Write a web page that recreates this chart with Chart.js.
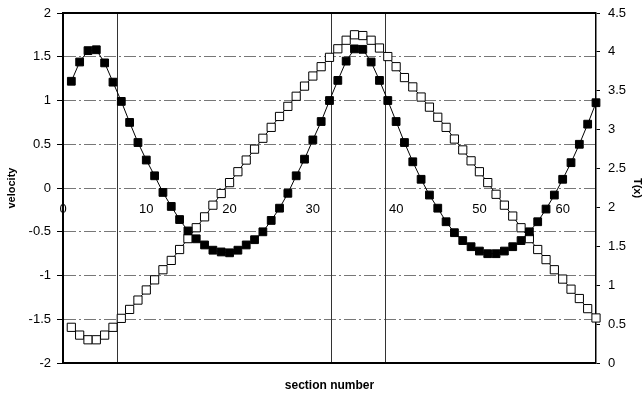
<!DOCTYPE html>
<html>
<head>
<meta charset="utf-8">
<script src="https://cdn.jsdelivr.net/npm/chart.js@4.4.1/dist/chart.umd.min.js"></script>
<style>
  html, body { margin: 0; padding: 0; background: #fff; }
  canvas { display: block; }
</style>
</head>
<body>
<canvas id="chart" width="644" height="398"></canvas>
<script>
'use strict';

// section numbers along the pipe
const sections = [
  1, 2, 3, 4, 5, 6, 7, 8, 9, 10, 11, 12, 13, 14, 15, 16,
  17, 18, 19, 20, 21, 22, 23, 24, 25, 26, 27, 28, 29, 30, 31, 32,
  33, 34, 35, 36, 37, 38, 39, 40, 41, 42, 43, 44, 45, 46, 47, 48,
  49, 50, 51, 52, 53, 54, 55, 56, 57, 58, 59, 60, 61, 62, 63, 64
];

// velocity (left axis, filled squares)
const velocity = [
  1.22, 1.44, 1.57, 1.58, 1.43, 1.21, 0.99, 0.75, 0.52, 0.32, 0.14, -0.05, -0.21, -0.36, -0.49, -0.58,
  -0.65, -0.71, -0.73, -0.74, -0.71, -0.65, -0.59, -0.50, -0.37, -0.23, -0.06, 0.14, 0.33, 0.55, 0.76, 1.00,
  1.23, 1.45, 1.59, 1.585, 1.44, 1.23, 1.00, 0.76, 0.52, 0.30, 0.10, -0.08, -0.23, -0.385, -0.51, -0.60,
  -0.67, -0.72, -0.75, -0.75, -0.72, -0.67, -0.60, -0.50, -0.385, -0.24, -0.08, 0.10, 0.29, 0.50, 0.73, 0.975
];

// T(x) (right axis, open squares)
const temperature = [
  0.46, 0.36, 0.30, 0.30, 0.36, 0.46, 0.575, 0.69, 0.81, 0.94, 1.07, 1.20, 1.32, 1.46, 1.60, 1.74,
  1.88, 2.03, 2.18, 2.32, 2.46, 2.61, 2.75, 2.89, 3.03, 3.17, 3.30, 3.43, 3.56, 3.69, 3.81, 3.93,
  4.04, 4.15, 4.22, 4.21, 4.15, 4.05, 3.94, 3.81, 3.67, 3.55, 3.42, 3.29, 3.16, 3.03, 2.88, 2.74,
  2.60, 2.46, 2.32, 2.17, 2.03, 1.89, 1.74, 1.60, 1.46, 1.33, 1.20, 1.08, 0.95, 0.83, 0.70, 0.58
];

const velocityTicks = [-2, -1.5, -1, -0.5, 0, 0.5, 1, 1.5, 2];
const tempTicks = [0, 0.5, 1, 1.5, 2, 2.5, 3, 3.5, 4, 4.5];
const sectionTicks = [0, 10, 20, 30, 40, 50, 60];
// vertical divider lines (section positions)
const dividers = [6.5, 32.2, 38.7];

const FONT = '"Liberation Sans", Arial, sans-serif';
Chart.defaults.font.family = FONT;
Chart.defaults.color = '#000';

const toPoints = ys => sections.map((s, i) => ({ x: s, y: ys[i] }));
const setTicks = arr => scale => { scale.ticks = arr.map(v => ({ value: v })); };
// fixed axis width, no extra top/bottom padding from the labels
const fixWidth = w => scale => {
  scale.width = w;
  scale.paddingTop = 0;
  scale.paddingBottom = 0;
};

// frame lines + dividers, drawn under the data
const framePlugin = {
  id: 'frame',
  beforeDatasetsDraw(chart) {
    const { ctx, chartArea: a, scales } = chart;
    ctx.save();
    ctx.strokeStyle = '#333';
    ctx.lineWidth = 1;
    dividers.forEach(v => {
      const px = Math.round(scales.x.getPixelForValue(v)) + 0.5;
      ctx.beginPath();
      ctx.moveTo(px, a.top);
      ctx.lineTo(px, a.bottom);
      ctx.stroke();
    });
    ctx.strokeStyle = '#000';
    ctx.lineWidth = 2;
    ctx.beginPath();
    ctx.moveTo(a.left, a.top);
    ctx.lineTo(a.right, a.top);
    ctx.moveTo(a.left, a.bottom);
    ctx.lineTo(a.right, a.bottom);
    ctx.stroke();
    ctx.restore();
  }
};

new Chart(document.getElementById('chart'), {
  type: 'line',
  data: {
    datasets: [
      {
        label: 'velocity',
        data: toPoints(velocity),
        yAxisID: 'y',
        borderColor: '#000',
        borderWidth: 1,
        pointStyle: 'rect',
        pointRadius: 5.5,
        pointBackgroundColor: '#000',
        pointBorderColor: '#000',
        pointBorderWidth: 1,
        clip: false
      },
      {
        label: 'T(x)',
        data: toPoints(temperature),
        yAxisID: 'y2',
        borderColor: '#000',
        borderWidth: 1,
        pointStyle: 'rect',
        pointRadius: 5.8,
        pointBackgroundColor: '#fff',
        pointBorderColor: '#000',
        pointBorderWidth: 1,
        clip: false
      }
    ]
  },
  options: {
    responsive: false,
    animation: false,
    devicePixelRatio: 1,
    layout: { padding: { top: 13, left: 0, right: 0, bottom: 0 } },
    plugins: {
      legend: { display: false },
      tooltip: { enabled: false },
      title: {
        display: true,
        text: 'section number',
        position: 'bottom',
        fullSize: false,
        color: '#000',
        font: { size: 12, weight: 'bold' },
        padding: { top: 15.5, bottom: 5 }
      }
    },
    scales: {
      x: {
        type: 'linear',
        min: 0,
        max: 64,
        position: { y: 0 },
        grid: { display: false },
        border: { display: false },
        ticks: { padding: 6, font: { size: 13 }, color: '#000', maxRotation: 0, autoSkip: false },
        afterBuildTicks: setTicks(sectionTicks)
      },
      y: {
        type: 'linear',
        position: 'left',
        min: -2,
        max: 2,
        afterBuildTicks: setTicks(velocityTicks),
        afterFit: fixWidth(63),
        grid: {
          color: '#777',
          lineWidth: 1,
          tickLength: 6,
          tickColor: '#000',
          tickBorderDash: [],
          borderDash: [12, 3, 2, 3]
        },
        border: { display: true, color: '#000', width: 2, dash: [12, 3, 2, 3] },
        ticks: { padding: 6, font: { size: 13 }, color: '#000', callback: v => String(v) },
        title: {
          display: true,
          text: 'velocity',
          color: '#000',
          font: { size: 11, weight: 'bold' },
          padding: { top: 5, bottom: 0 }
        }
      },
      y2: {
        type: 'linear',
        position: 'right',
        min: 0,
        max: 4.5,
        afterBuildTicks: setTicks(tempTicks),
        afterFit: fixWidth(48),
        grid: { drawOnChartArea: false, tickLength: 4, color: '#000' },
        border: { display: true, color: '#000', width: 1.5 },
        ticks: { padding: 8, font: { size: 13 }, color: '#000', callback: v => String(v) },
        title: {
          display: true,
          text: 'T(x)',
          color: '#000',
          font: { size: 11, weight: 'bold' },
          padding: { top: 0, bottom: 0 }
        }
      }
    }
  },
  plugins: [framePlugin]
});
</script>
</body>
</html>
